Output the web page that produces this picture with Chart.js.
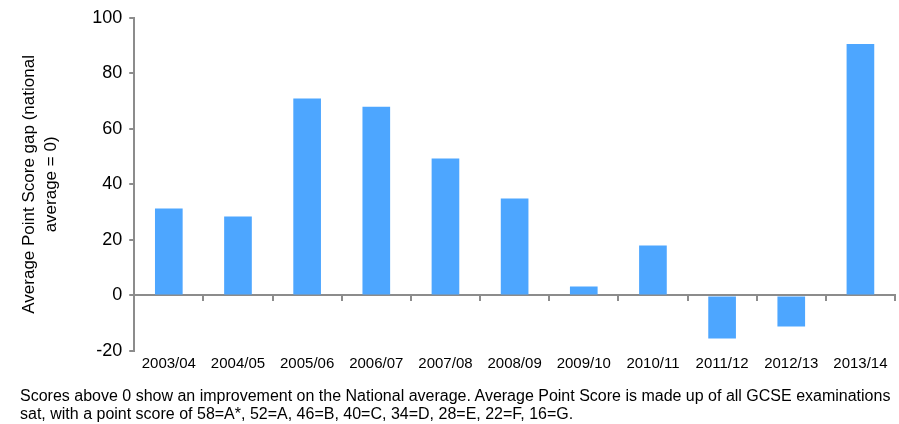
<!DOCTYPE html>
<html>
<head>
<meta charset="utf-8">
<script src="https://cdn.jsdelivr.net/npm/chart.js@4"></script>
<style>
  body { margin: 0; background: #fff; }
  #wrap { position: relative; width: 899px; height: 424px; }
  #chart { position: absolute; left: 0; top: 0; }
  #note {
    position: absolute; left: 20px; top: 387px; width: 875px;
    font-family: "Liberation Sans", Arial, sans-serif; font-size: 16px; line-height: 18px; color: #000;
  }
</style>
</head>
<body>
<div id="wrap">
  <canvas id="chart" width="899" height="424"></canvas>
  <div id="note">Scores above 0 show an improvement on the National average. Average Point Score is made up of all GCSE examinations sat, with a point score of 58=A*, 52=A, 46=B, 40=C, 34=D, 28=E, 22=F, 16=G.</div>
</div>
<script>
// years and gap to national average
const years = ['2003/04', '2004/05', '2005/06', '2006/07', '2007/08', '2008/09', '2009/10', '2010/11', '2011/12', '2012/13', '2013/14'];
const scoreGap = [31.3, 28.4, 70.9, 68, 49.3, 34.9, 3.2, 18, -15.5, -11.2, 90.6];
const yTicks = [-20, 0, 20, 40, 60, 80, 100];

const axisGrey = '#8c8c8c';
const font = 'Liberation Sans, Arial, sans-serif';

new Chart(document.getElementById('chart'), {
  type: 'bar',
  data: {
    labels: years,
    datasets: [{
      data: scoreGap,
      backgroundColor: '#4da6ff',
      barPercentage: 0.4,
      categoryPercentage: 1
    }]
  },
  options: {
    responsive: false,
    animation: false,
    layout: { padding: { top: 0, right: 4, left: 18, bottom: 47 } },
    plugins: { legend: { display: false }, tooltip: { enabled: false } },
    scales: {
      // axis line sitting on zero, with the between-category ticks
      x: {
        position: { y: 0 },
        offset: true,
        z: 1,
        border: { color: axisGrey, width: 2 },
        grid: { drawOnChartArea: false, drawTicks: true, tickLength: 5, color: axisGrey, lineWidth: 2, offset: true },
        ticks: { display: false }
      },
      // labels along the bottom
      x2: {
        type: 'category',
        labels: years,
        position: 'bottom',
        offset: true,
        border: { display: false },
        grid: { display: false, drawTicks: false },
        ticks: { color: '#000', font: { family: font, size: 15 }, padding: 4, maxRotation: 0, autoSkip: false }
      },
      y: {
        min: -20,
        max: 100,
        z: 1,
        border: { color: axisGrey, width: 2 },
        grid: { drawOnChartArea: false, drawTicks: true, tickLength: 5, color: axisGrey, lineWidth: 2 },
        afterBuildTicks: s => { s.ticks = yTicks.map(v => ({ value: v })); },
        ticks: { color: '#000', font: { family: font, size: 18 }, padding: 7 },
        title: {
          display: true,
          text: ['Average Point Score gap (national', 'average = 0)'],
          color: '#000',
          font: { family: font, size: 17, lineHeight: 1.3 },
          padding: { top: 0, bottom: 23 }
        }
      }
    }
  }
});
</script>
</body>
</html>
